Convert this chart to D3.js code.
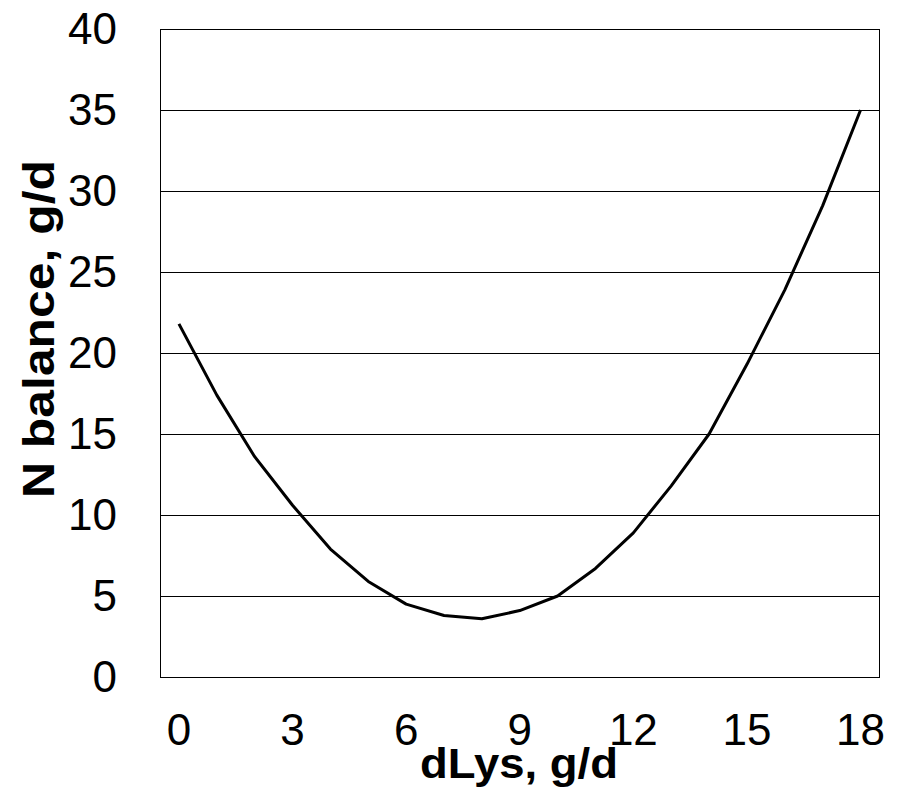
<!DOCTYPE html>
<html>
<head>
<meta charset="utf-8">
<script src="https://cdn.jsdelivr.net/npm/d3@7"></script>
<style>
  body { margin: 0; background: #fff; }
  text { font-family: "Liberation Sans", Arial, sans-serif; fill: #000; }
</style>
</head>
<body>
<div id="chart"></div>
<script>
    var width = 904,
        height = 796,
        plotLeft = 160, plotRight = 879.5,   // plot area edges
        plotTop = 29, plotBottom = 677;

    // dLys categories (g/d) and N balance (g/d)
    var dLys = [0, 1, 2, 3, 4, 5, 6, 7, 8, 9, 10, 11, 12, 13, 14, 15, 16, 17, 18];
    var nBalance = [21.8, 17.4, 13.6, 10.6, 7.9, 5.9, 4.5, 3.8, 3.6, 4.1,
                    5.0, 6.7, 8.9, 11.8, 15.0, 19.3, 23.9, 29.1, 35.0];
    var xLabels = [0, 3, 6, 9, 12, 15, 18];
    var yTicks = [0, 5, 10, 15, 20, 25, 30, 35, 40];

    var svg = d3.select("#chart").append("svg")
        .attr("width", width)
        .attr("height", height);

    var x = d3.scalePoint()
        .domain(dLys)
        .range([plotLeft, plotRight])
        .padding(0.5);

    var y = d3.scaleLinear()
        .domain([0, 40])
        .range([plotBottom, plotTop]);

    // horizontal gridlines
    svg.append("g").selectAll("line")
        .data(yTicks)
        .enter().append("line")
        .attr("x1", plotLeft)
        .attr("x2", plotRight)
        .attr("y1", function (d) { return Math.round(y(d)) + 0.5; })
        .attr("y2", function (d) { return Math.round(y(d)) + 0.5; })
        .style("stroke", "#000")
        .style("stroke-width", 1);

    // plot border
    svg.append("rect")
        .attr("x", plotLeft + 0.5)
        .attr("y", plotTop + 0.5)
        .attr("width", plotRight - plotLeft - 0.5)
        .attr("height", plotBottom - plotTop)
        .style("fill", "none")
        .style("stroke", "#000")
        .style("stroke-width", 1);

    // y tick labels
    svg.append("g").selectAll("text")
        .data(yTicks)
        .enter().append("text")
        .attr("x", 117)
        .attr("y", function (d) { return y(d); })
        .attr("dy", "0.35em")
        .attr("text-anchor", "end")
        .style("font-size", "44px")
        .text(function (d) { return d; });

    // x tick labels
    svg.append("g").selectAll("text")
        .data(xLabels)
        .enter().append("text")
        .attr("x", function (d) { return x(d); })
        .attr("y", 745)
        .attr("text-anchor", "middle")
        .style("font-size", "44px")
        .text(function (d) { return d; });

    // the curve
    var line = d3.line()
        .x(function (d, i) { return x(dLys[i]); })
        .y(function (d) { return y(d); });

    svg.append("path")
        .datum(nBalance)
        .attr("d", line)
        .style("fill", "none")
        .style("stroke", "#000")
        .style("stroke-width", 3)
        .style("stroke-linejoin", "round");

    // axis titles (slightly wide lettering, as in the original)
    svg.append("text")
        .attr("x", 519)
        .attr("y", 778)
        .attr("text-anchor", "middle")
        .attr("textLength", 198)
        .attr("lengthAdjust", "spacingAndGlyphs")
        .style("font-size", "43px")
        .style("font-weight", "bold")
        .text("dLys, g/d");

    svg.append("text")
        .attr("transform", "translate(54,329) rotate(-90)")
        .attr("text-anchor", "middle")
        .attr("textLength", 338)
        .attr("lengthAdjust", "spacingAndGlyphs")
        .style("font-size", "44px")
        .style("font-weight", "bold")
        .text("N balance, g/d");
</script>
</body>
</html>
